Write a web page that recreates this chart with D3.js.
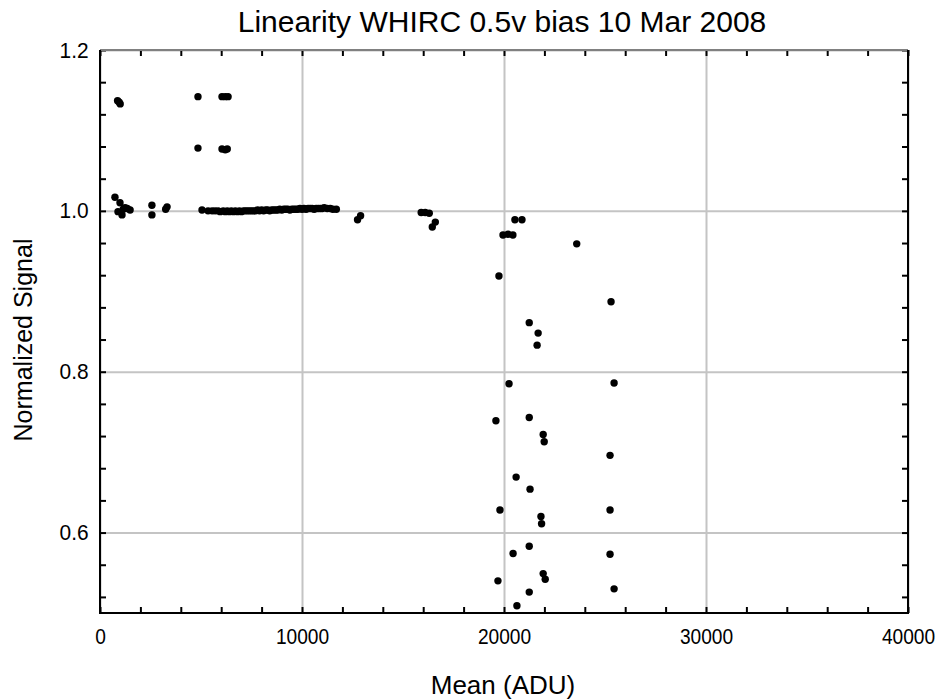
<!DOCTYPE html>
<html lang="en">
<head>
<meta charset="UTF-8">
<title>Linearity WHIRC</title>
<script src="https://d3js.org/d3.v7.min.js"></script>
<style>
  body { margin: 0; background: #fff; }
  text { font-family: "Liberation Sans", Arial, sans-serif; fill: #000; }
  .grid line { stroke: #c4c4c4; stroke-width: 2; }
  .grid path { display: none; }
  .ticks path { display: none; }
  .ticks line { stroke: #000; stroke-width: 2; }
</style>
</head>
<body>
<div id="chart"></div>
<script>
// mean (ADU), normalized signal
var meanAdu = [
  870, 950, 1000, 740, 990, 890, 1240, 1490, 1090, 1150, 1350,
  2570, 2570, 3320, 3250,
  4850, 4850, 6040, 6200, 6340, 6040, 6200, 6300,
  5050, 5350, 5550, 5700, 5850, 5950, 6100, 6200, 6300, 6400, 6500, 6600, 6700, 6800,
  6900, 7000, 7100, 7200, 7300, 7400, 7500, 7600, 7700, 7800, 7900, 8000, 8100, 8200,
  8300, 8400, 8500, 8600, 8700, 8800, 8900, 9000, 9100, 9200, 9300, 9400, 9500, 9600,
  9700, 9800, 9900, 10000, 10100, 10200, 10300, 10400, 10500, 10600, 10700, 10800,
  10900, 11000, 11100, 11250, 11400, 11530, 11700,
  12750, 12900, 15900, 16100, 16300, 16450, 16600,
  20540, 20890, 19950, 20200, 20440,
  23600, 19750, 25300, 21250, 21690, 21640, 20250, 25450,
  19600, 21250, 21940, 21990, 25250, 20600, 21290, 19800, 25250, 21830, 21860,
  21250, 20450, 25250, 21940, 22040, 19700, 25450, 21250, 20640
];
var signal = [
  1.137, 1.135, 1.133, 1.017, 1.010, 0.999, 1.004, 1.001, 0.995, 1.002, 1.003,
  1.007, 0.995, 1.005, 1.002,
  1.142, 1.078, 1.142, 1.142, 1.142, 1.077, 1.076, 1.077,
  1.001, 1.000, 1.000, 1.000, 1.000, 0.999, 1.000, 0.999, 1.000, 0.999, 1.000, 0.999, 1.000, 0.999,
  1.000, 0.999, 1.000, 1.000, 1.000, 1.000, 1.000, 1.000, 1.000, 1.001, 1.000, 1.001, 1.000, 1.001,
  1.001, 1.000, 1.001, 1.001, 1.001, 1.001, 1.002, 1.001, 1.002, 1.002, 1.002, 1.001, 1.002, 1.002,
  1.002, 1.002, 1.003, 1.002, 1.003, 1.002, 1.003, 1.003, 1.003, 1.002, 1.003, 1.003,
  1.003, 1.003, 1.004, 1.003, 1.003, 1.002, 1.002,
  0.989, 0.994, 0.998, 0.998, 0.997, 0.980, 0.986,
  0.989, 0.989, 0.970, 0.971, 0.970,
  0.959, 0.919, 0.887, 0.861, 0.848, 0.833, 0.785, 0.786,
  0.739, 0.743, 0.722, 0.713, 0.696, 0.669, 0.654, 0.628, 0.628, 0.620, 0.611,
  0.583, 0.574, 0.573, 0.549, 0.542, 0.540, 0.530, 0.526, 0.509
];
var xMajor = [0, 10000, 20000, 30000, 40000];
var yMajor = [0.6, 0.8, 1.0, 1.2];
var xMinor = d3.range(0, 40001, 2000);
var yMinor = [0.52, 0.56, 0.6, 0.64, 0.68, 0.72, 0.76, 0.8, 0.84, 0.88, 0.92, 0.96, 1.0, 1.04, 1.08, 1.12, 1.16, 1.2];

var points = meanAdu.map(function(m, i) { return { x: m, y: signal[i] }; });

var margin = { top: 50, right: 37, bottom: 87, left: 100 };
var width = 945 - margin.left - margin.right;
var height = 700 - margin.top - margin.bottom;

var svg = d3.select("#chart").append("svg")
    .attr("width", 945)
    .attr("height", 700);

var g = svg.append("g")
    .attr("transform", "translate(" + margin.left + "," + margin.top + ")");

var x = d3.scaleLinear().domain([0, 40000]).range([0, width]);
var y = d3.scaleLinear().domain([0.5, 1.2]).range([height, 0]);

// grid
g.append("g").attr("class", "grid")
    .call(d3.axisBottom(x).tickValues(xMajor).tickSize(height).tickFormat(""));
g.append("g").attr("class", "grid")
    .call(d3.axisLeft(y).tickValues(yMajor).tickSize(-width).tickFormat(""));

// inward ticks on all four sides
g.append("g").attr("class", "ticks")
    .attr("transform", "translate(0," + height + ")")
    .call(d3.axisBottom(x).tickValues(xMinor).tickSize(-6).tickFormat(""));
g.append("g").attr("class", "ticks")
    .call(d3.axisTop(x).tickValues(xMinor).tickSize(-6).tickFormat(""));
g.append("g").attr("class", "ticks")
    .call(d3.axisLeft(y).tickValues(yMinor).tickSize(-6).tickFormat(""));
g.append("g").attr("class", "ticks")
    .attr("transform", "translate(" + width + ",0)")
    .call(d3.axisRight(y).tickValues(yMinor).tickSize(-6).tickFormat(""));

// frame
g.append("line").attr("x1", 0).attr("x2", width).attr("y1", 0).attr("y2", 0)
    .attr("stroke", "#808080").attr("stroke-width", 2);
g.append("path")
    .attr("d", "M" + width + ",0V" + height + "H0V0")
    .attr("fill", "none").attr("stroke", "#000").attr("stroke-width", 2);

// tick labels
var xLab = g.append("g")
    .attr("transform", "translate(0," + height + ")")
    .call(d3.axisBottom(x).tickValues(xMajor).tickSize(0).tickPadding(15).tickFormat(d3.format("d")));
xLab.select(".domain").remove();
xLab.selectAll("text").style("font-size", "22px").attr("transform", "scale(0.87,1)");

var yLab = g.append("g")
    .call(d3.axisLeft(y).tickValues(yMajor).tickSize(0).tickPadding(12).tickFormat(d3.format(".1f")));
yLab.select(".domain").remove();
yLab.selectAll("text").style("font-size", "22px").attr("transform", "scale(0.95,1)");

// points
g.append("g").selectAll("circle")
    .data(points)
    .enter().append("circle")
    .attr("cx", function(d) { return x(d.x); })
    .attr("cy", function(d) { return y(d.y); })
    .attr("r", 3.7)
    .attr("fill", "#000");

// titles
svg.append("text")
    .attr("x", 502).attr("y", 32)
    .attr("text-anchor", "middle")
    .style("font-size", "30px")
    .text("Linearity WHIRC 0.5v bias 10 Mar 2008");

svg.append("text")
    .attr("x", 503).attr("y", 694)
    .attr("text-anchor", "middle")
    .style("font-size", "26px")
    .text("Mean (ADU)");

svg.append("text")
    .attr("transform", "translate(32,340) rotate(-90)")
    .attr("text-anchor", "middle")
    .style("font-size", "25px")
    .text("Normalized Signal");
</script>
</body>
</html>
